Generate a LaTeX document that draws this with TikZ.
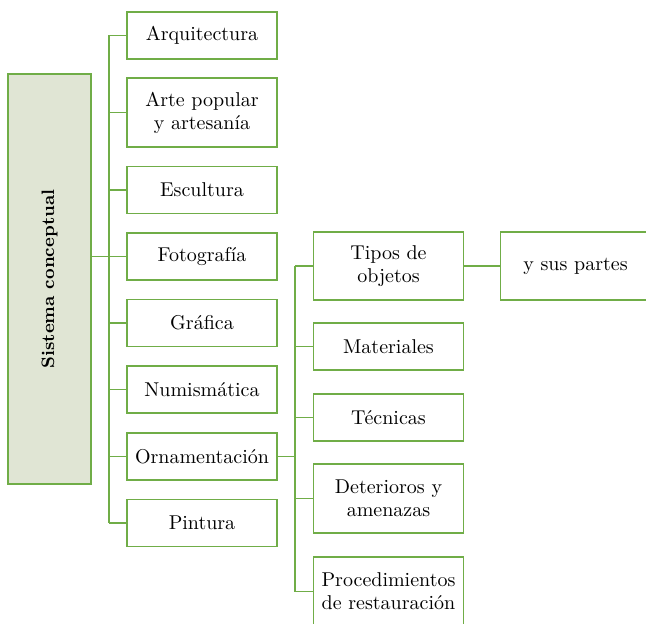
\documentclass[tikz,border=0pt]{standalone}
\usepackage{graphicx,tikz}
\usepackage{xcolor}
\definecolor{verde}{HTML}{70AD47}
\definecolor{fondo}{HTML}{E0E5D4}

\begin{document}
\begin{tikzpicture}[x=0.5pt,y=-0.5pt,every node/.style={draw=verde,line width=0.7pt,fill=white,align=center,inner sep=1pt,minimum width=75pt,minimum height=23.5pt,font=\fontsize{10}{11.5}\selectfont}]
	\clip (0,0) rectangle (646,624);
	
	\node[fill=fondo,minimum width=41.5pt,minimum height=205pt] (sis) at (49.5,279){\rotatebox{90}{\fontsize{9}{10}\selectfont\bfseries Sistema conceptual}};
	%first level
	\node (arq) at (202,35.5){Arquitectura};
	\node[minimum height=34.5pt] (arte) at (202,112.5){Arte popular\\y artesanía};
	\node (esc) at (202,190){Escultura};
	\node (foto) at (202,256.5){Fotografía};
	\node (graf) at (202,323){Gráfica};
	\node (num) at (202,389.5){Numismática};
	\node (orn) at (202,456.5){Ornamentación};
	\node (pint) at (202,523){Pintura};
	%second level
	\node[minimum height=34pt] (tipos) at (388.5,266){Tipos de\\objetos};
	\node (mat) at (388.5,346.5){Materiales};
	\node (tec) at (388.5,417.5){Técnicas};
	\node[minimum height=34.5pt] (det) at (388.5,498.5){Deterioros y\\amenazas};
	\node[minimum height=34.5pt] (proc) at (388.5,591.5){Procedimientos\\de restauración};
	%third level
	\node[minimum height=34pt] (partes) at (575.5,266){y sus partes};
	
	\begin{scope}[verde,line width=0.7pt]
	%first bus
	\coordinate (b1) at (109,256.5);
	\draw (arq.west -| b1) -- (pint.west -| b1);
	\draw (sis.east |- foto.west) -- (foto.west);
	\foreach \n in {arq,arte,esc,graf,num,orn,pint}
		\draw (\n.west -| b1) -- (\n.west);
	%second bus
	\coordinate (b2) at (295,456.5);
	\draw (tipos.west -| b2) -- (proc.west -| b2);
	\draw (orn.east) -- (b2);
	\foreach \n in {tipos,mat,tec,det,proc}
		\draw (\n.west -| b2) -- (\n.west);
	\draw (tipos.east) -- (partes.west);
	\end{scope}
\end{tikzpicture}
\end{document}
